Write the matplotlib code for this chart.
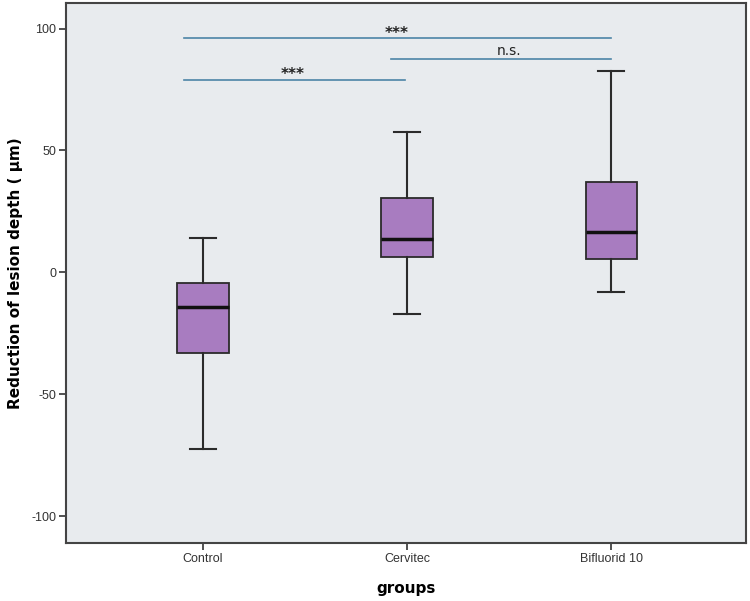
import matplotlib
matplotlib.use("Agg")
import matplotlib.pyplot as plt

plt.rcParams["axes.unicode_minus"] = False

groups = ["Control", "Cervitec", "Bifluorid 10"]
whislo = [-72.5, -17.0, -8.1]
q1 = [-33.1, 6.5, 5.5]
med = [-14.3, 13.6, 16.5]
q3 = [-4.4, 30.4, 37.2]
whishi = [14.3, 57.5, 82.6]

# significance brackets: (x start, x end, y, label)
sig_x0 = [0.91, 1.92, 0.91]
sig_x1 = [3.0, 3.0, 1.99]
sig_y = [96.0, 87.4, 78.9]
sig_txt = ["***", "n.s.", "***"]
sig_tx = [1.95, 2.5, 1.44]

fig = plt.figure(figsize=(7.5, 6.01), dpi=100)
ax = fig.add_axes([0.088, 0.0965, 0.907, 0.8985])
ax.set_facecolor("#e8ebee")

stats = []
for i in range(3):
    stats.append(dict(label=groups[i], whislo=whislo[i], q1=q1[i], med=med[i],
                      q3=q3[i], whishi=whishi[i], fliers=[]))

ax.bxp(stats, positions=[1, 2, 3], widths=0.253, patch_artist=True,
       boxprops=dict(facecolor="#a87cc0", edgecolor="#2b2b2b", linewidth=1.3),
       medianprops=dict(color="#111111", linewidth=2.5),
       whiskerprops=dict(color="#2b2b2b", linewidth=1.5),
       capprops=dict(color="#2b2b2b", linewidth=1.5),
       capwidths=0.127, showfliers=False)

for x0, x1, y, t, tx in zip(sig_x0, sig_x1, sig_y, sig_txt, sig_tx):
    ax.plot([x0, x1], [y, y], color="#4c84a6", linewidth=1.2)
    if t == "***":
        ax.text(tx, y - 1.0, t, ha="center", va="bottom", fontsize=11,
                fontweight="bold", color="#222222", family="DejaVu Sans")
    else:
        ax.text(tx, y + 0.5, t, ha="center", va="bottom", fontsize=10,
                color="#222222", family="DejaVu Sans")

ax.set_xlim(0.33, 3.66)
ax.set_ylim(-111, 110.5)
ax.set_yticks([-100, -50, 0, 50, 100])
ax.set_xticks([1, 2, 3])
ax.set_xticklabels(groups, family="Liberation Sans", fontsize=9)
for lab in ax.get_yticklabels():
    lab.set_family("Liberation Sans")
    lab.set_fontsize(9)
ax.tick_params(direction="out", length=5, width=1.2, color="#333333", labelcolor="#333333", pad=2)
for s in ax.spines.values():
    s.set_color("#444444")
    s.set_linewidth(1.5)

ax.set_xlabel("groups", fontsize=11, fontweight="bold", labelpad=12)
ax.set_ylabel("Reduction of lesion depth ( µm)", fontsize=11, fontweight="bold", labelpad=6)

fig.savefig("out.png", dpi=100)
